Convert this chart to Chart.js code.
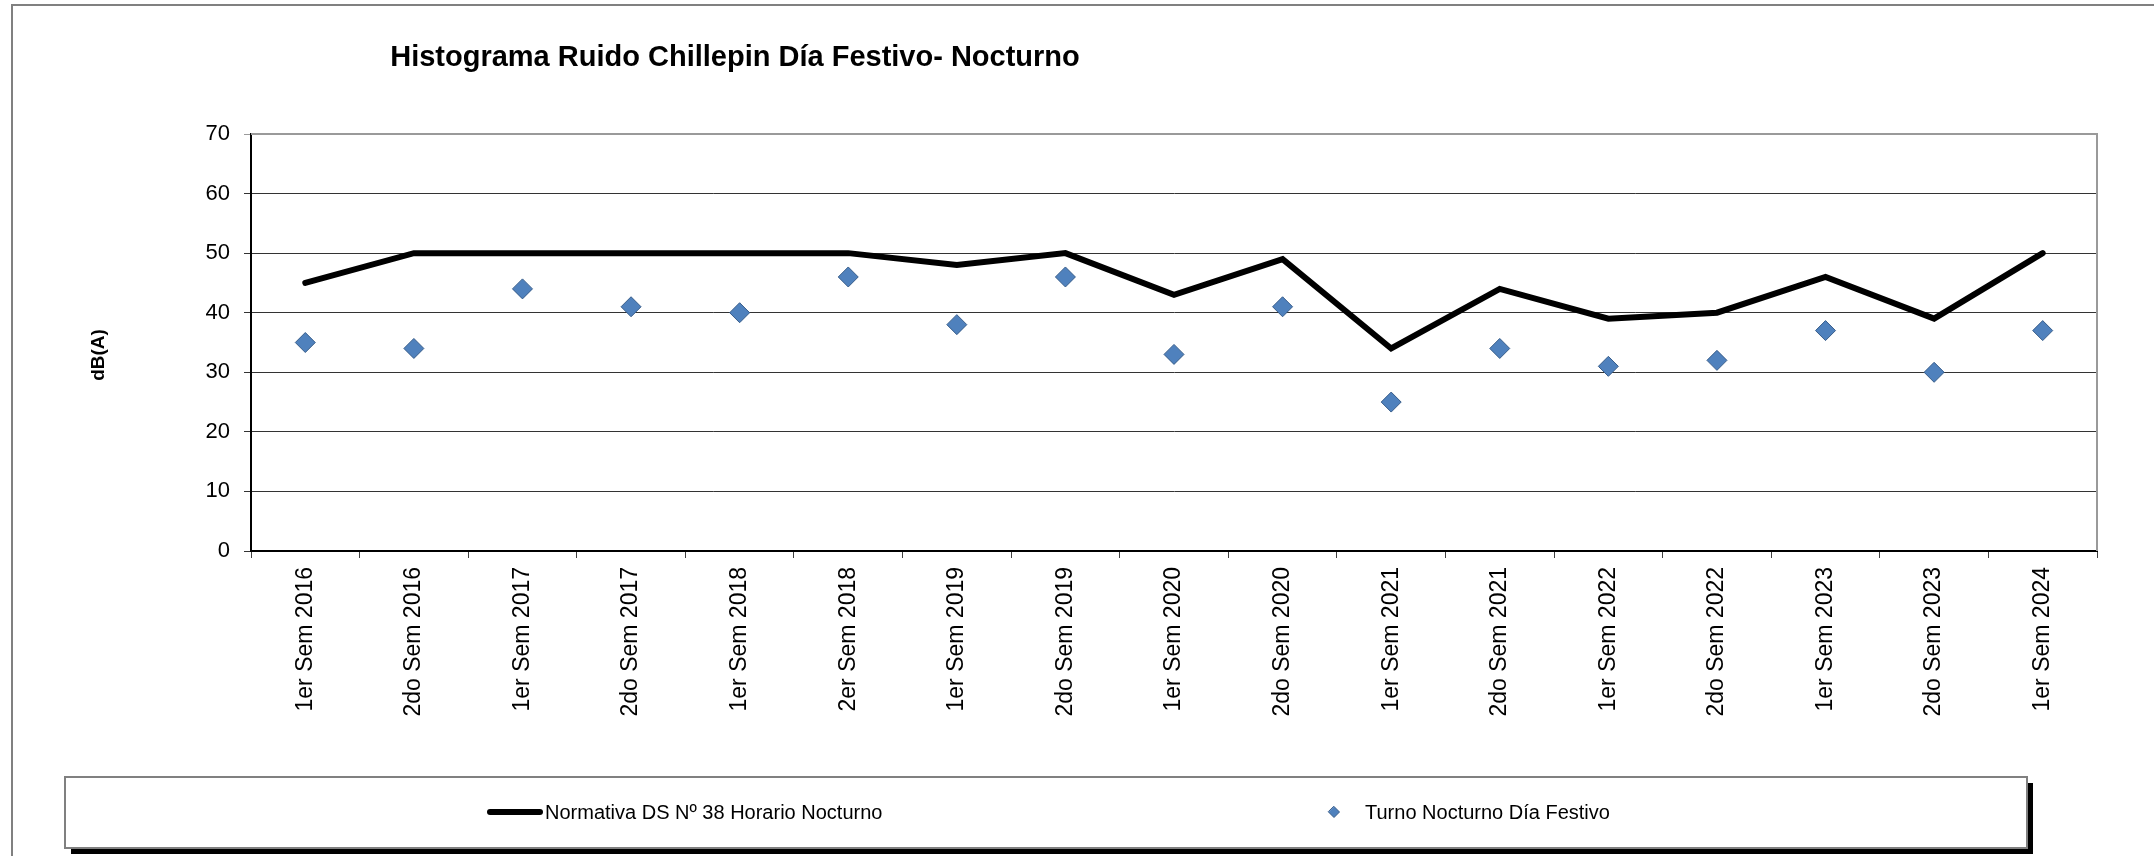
<!DOCTYPE html>
<html>
<head>
<meta charset="utf-8">
<script src="https://cdn.jsdelivr.net/npm/chart.js@4.4.1/dist/chart.umd.min.js"></script>
<style>
html,body{margin:0;padding:0;background:#fff;}
#wrap{width:2154px;height:856px;position:relative;}
</style>
</head>
<body>
<div id="wrap"><canvas id="c" width="2154" height="856"></canvas></div>
<script>
// ---- data ----
const categories = [
  '1er Sem 2016','2do Sem 2016','1er Sem 2017','2do Sem 2017','1er Sem 2018','2er Sem 2018',
  '1er Sem 2019','2do Sem 2019','1er Sem 2020','2do Sem 2020','1er Sem 2021','2do Sem 2021',
  '1er Sem 2022','2do Sem 2022','1er Sem 2023','2do Sem 2023','1er Sem 2024'
];
const normativa = [45, 50, 50, 50, 50, 50, 48, 50, 43, 49, 34, 44, 39, 40, 46, 39, 50];
const turnoNocturno = [35, 34, 44, 41, 40, 46, 38, 46, 33, 41, 25, 34, 31, 32, 37, 30, 37];
const yTicks = [0, 10, 20, 30, 40, 50, 60, 70];
const seriesNames = ['Normativa DS Nº 38 Horario Nocturno', 'Turno Nocturno Día Festivo'];
const titleText = 'Histograma Ruido Chillepin Día Festivo- Nocturno';
const yAxisTitle = 'dB(A)';

const FONT = '"Liberation Sans", Arial, sans-serif';

function diamond(ctx, x, y, r) {
  ctx.beginPath();
  ctx.moveTo(x, y - r);
  ctx.lineTo(x + r, y);
  ctx.lineTo(x, y + r);
  ctx.lineTo(x - r, y);
  ctx.closePath();
}

const decor = {
  id: 'decor',
  beforeDraw(chart) {
    const ctx = chart.ctx;
    ctx.save();
    ctx.fillStyle = '#fff';
    ctx.fillRect(0, 0, chart.width, chart.height);
    ctx.strokeStyle = '#808080';
    ctx.lineWidth = 2;
    ctx.strokeRect(12, 5, chart.width + 10, chart.height + 10);
    ctx.restore();
  },
  afterDraw(chart) {
    const ctx = chart.ctx;
    const a = chart.chartArea;
    ctx.save();
    // plot area top/right border
    ctx.strokeStyle = '#9a9a9a';
    ctx.lineWidth = 2;
    ctx.beginPath();
    ctx.moveTo(a.left, a.top);
    ctx.lineTo(a.right, a.top);
    ctx.lineTo(a.right, a.bottom);
    ctx.stroke();

    // title
    ctx.fillStyle = '#000';
    ctx.font = 'bold 29px ' + FONT;
    ctx.textAlign = 'center';
    ctx.textBaseline = 'alphabetic';
    ctx.fillText(titleText, 735, 66);

    // y axis title
    ctx.save();
    ctx.translate(99, 355);
    ctx.rotate(-Math.PI / 2);
    ctx.font = 'bold 19px ' + FONT;
    ctx.textAlign = 'center';
    ctx.textBaseline = 'middle';
    ctx.fillText(yAxisTitle, 0, 0);
    ctx.restore();

    // legend box
    const lx = 65, ly = 777, lw = 1962, lh = 71;
    ctx.fillStyle = '#000';
    ctx.fillRect(lx + 6, ly + 6, lw, lh);
    ctx.fillStyle = '#fff';
    ctx.fillRect(lx, ly, lw, lh);
    ctx.strokeStyle = '#808080';
    ctx.lineWidth = 2;
    ctx.strokeRect(lx, ly, lw, lh);

    const ds = chart.data.datasets;
    const cy = 812;
    // item 1: line
    ctx.strokeStyle = ds[0].borderColor;
    ctx.lineWidth = 6;
    ctx.lineCap = 'round';
    ctx.beginPath();
    ctx.moveTo(490, cy);
    ctx.lineTo(540, cy);
    ctx.stroke();
    ctx.fillStyle = '#000';
    ctx.font = '20px ' + FONT;
    ctx.textAlign = 'left';
    ctx.textBaseline = 'middle';
    ctx.fillText(ds[0].label, 545, cy + 1);
    // item 2: diamond
    diamond(ctx, 1334, cy, 5.5);
    ctx.fillStyle = ds[1].backgroundColor;
    ctx.fill();
    ctx.lineWidth = 1;
    ctx.strokeStyle = ds[1].borderColor;
    ctx.stroke();
    ctx.fillStyle = '#000';
    ctx.fillText(ds[1].label, 1365, cy + 1);
    ctx.restore();
  }
};

new Chart(document.getElementById('c'), {
  type: 'line',
  data: {
    labels: categories,
    datasets: [
      {
        label: seriesNames[0],
        data: normativa,
        borderColor: '#000000',
        backgroundColor: '#000000',
        borderWidth: 6,
        borderCapStyle: 'round',
        borderJoinStyle: 'miter',
        pointRadius: 0,
        pointHoverRadius: 0,
        tension: 0,
        fill: false,
        order: 2
      },
      {
        label: seriesNames[1],
        data: turnoNocturno,
        showLine: false,
        pointStyle: 'rectRot',
        pointRadius: 10,
        pointHoverRadius: 10,
        pointBackgroundColor: '#4F81BD',
        pointBorderColor: '#385D8A',
        pointBorderWidth: 1,
        backgroundColor: '#4F81BD',
        borderColor: '#385D8A',
        order: 1
      }
    ]
  },
  options: {
    responsive: false,
    animation: false,
    devicePixelRatio: 1,
    layout: { padding: { left: 20, right: 57, top: 134, bottom: 0 } },
    plugins: {
      legend: { display: false },
      title: { display: false },
      tooltip: { enabled: false }
    },
    scales: {
      x: {
        type: 'category',
        offset: true,
        grid: {
          offset: true,
          drawOnChartArea: false,
          drawTicks: true,
          tickLength: 7,
          color: '#404040',
          lineWidth: 1
        },
        border: { display: true, color: '#000000', width: 2 },
        ticks: {
          autoSkip: false,
          maxRotation: 90,
          minRotation: 90,
          padding: 9,
          color: '#000000',
          font: { family: FONT, size: 23 }
        },
        afterFit(scale) { scale.height = 305; }
      },
      y: {
        min: 0,
        max: 70,
        afterBuildTicks(scale) { scale.ticks = yTicks.map(v => ({ value: v })); },
        grid: {
          drawTicks: true,
          tickLength: 7,
          color: ctx => (ctx.tick && ctx.tick.value === 70) ? '#9a9a9a' : '#333333',
          lineWidth: 1
        },
        border: { display: true, color: '#000000', width: 2 },
        ticks: {
          padding: 14,
          color: '#000000',
          font: { family: FONT, size: 22 }
        },
        afterFit(scale) { scale.width = 231; }
      }
    }
  },
  plugins: [decor]
});
</script>
</body>
</html>
